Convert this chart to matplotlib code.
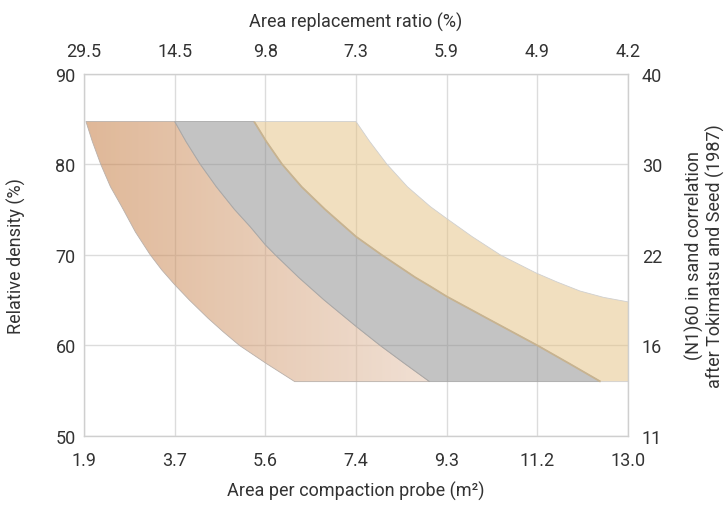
import numpy as np
import matplotlib
matplotlib.use("Agg")
import matplotlib.pyplot as plt
from matplotlib.patches import Polygon

# ---- data ----
bottom_tick_labels = ["1.9", "3.7", "5.6", "7.4", "9.3", "11.2", "13.0"]
top_tick_labels = ["29.5", "14.5", "9.8", "7.3", "5.9", "4.9", "4.2"]
y_ticks = [50, 60, 70, 80, 90]
right_tick_labels = ["11", "16", "22", "30", "40"]

# boundary curves: relative density (%) -> area per probe (m2)
c1_d = [84.7, 82.5, 80.0, 77.5, 75.3, 72.5, 70.0, 68.3, 66.7, 65.0, 63.0, 61.5, 60.0, 58.0, 56.0]
c1_x = [1.94, 2.07, 2.24, 2.44, 2.67, 2.95, 3.25, 3.49, 3.75, 4.05, 4.43, 4.74, 5.07, 5.62, 6.20]
c2_d = [84.7, 82.5, 80.0, 77.5, 75.0, 73.1, 71.1, 70.0, 67.5, 65.0, 62.1, 60.0, 58.0, 56.0]
c2_x = [3.75, 3.98, 4.27, 4.60, 4.97, 5.29, 5.60, 5.80, 6.28, 6.80, 7.45, 7.94, 8.44, 8.95]
c3_d = [84.7, 82.5, 80.0, 77.5, 75.0, 72.0, 70.0, 67.5, 66.5, 65.4, 63.0, 60.0, 58.0, 56.0]
c3_x = [5.37, 5.62, 5.94, 6.34, 6.82, 7.45, 7.97, 8.66, 8.97, 9.30, 10.12, 11.15, 11.80, 12.44]
c4_d = [84.7, 82.5, 80.0, 77.5, 75.3, 74.0, 72.0, 70.0, 68.0, 67.0, 66.0, 65.3, 64.8, 63.0, 56.0]
c4_x = [7.45, 7.73, 8.08, 8.50, 8.97, 9.30, 9.82, 10.39, 11.12, 11.55, 12.02, 12.50, 13.00, 15.00, 22.00]

x_min, x_max = 1.9, 13.0

plt.rcParams['font.family'] = ['Roboto', 'DejaVu Sans']
text_color = '#333333'
fs = 13
fw = 'normal'

fig = plt.figure(figsize=(7.26, 5.06), dpi=100)
ax = fig.add_axes([84 / 726, 1 - 437 / 506, (628 - 84) / 726, (437 - 74.5) / 506])

ax.set_xlim(x_min, x_max)
ax.set_ylim(50, 90)
xt = np.linspace(x_min, x_max, len(bottom_tick_labels))
ax.set_xticks(xt)
ax.set_xticklabels(bottom_tick_labels, fontweight=fw)
ax.set_yticks(y_ticks)
ax.set_yticklabels([str(v) for v in y_ticks], fontweight=fw)
ax.set_axisbelow(True)
ax.grid(True, color='#dcdcdc', lw=1.0)
for s in ax.spines.values():
    s.set_color('#cfcfcf')
    s.set_linewidth(1.0)
ax.tick_params(axis='x', length=0, labelsize=fs, colors=text_color, pad=11)
ax.tick_params(axis='y', length=0, labelsize=fs, colors=text_color, pad=6)


def band(left_d, left_x, right_d, right_x):
    pts = list(zip(left_x, left_d)) + list(zip(right_x[::-1], right_d[::-1]))
    return np.array(pts)


# orange band with horizontal gradient
orange_pts = band(c1_d, c1_x, c2_d, c2_x)
orange_poly = Polygon(orange_pts, closed=True, facecolor='none',
                      edgecolor='#b9b0aa', lw=0.6, zorder=3)
ax.add_patch(orange_poly)
n = 256
t = np.linspace(0, 1, n)
left_c = np.array([198.6, 125.9, 67.7]) / 255
right_c = np.array([228.0, 198.0, 176.0]) / 255
grad = np.zeros((2, n, 4))
for i in range(3):
    grad[:, :, i] = left_c[i] + (right_c[i] - left_c[i]) * t
grad[:, :, 3] = 0.55
im = ax.imshow(grad, extent=[min(c1_x), max(c2_x), min(c1_d), max(c1_d)],
               origin='lower', aspect='auto', zorder=2, interpolation='bilinear')
im.set_clip_path(orange_poly)

# gray band
gray_pts = band(c2_d, c2_x, c3_d, c3_x)
ax.add_patch(Polygon(gray_pts, closed=True, facecolor='#898989', alpha=0.5,
                     edgecolor='none', zorder=2))
ax.add_patch(Polygon(gray_pts, closed=True, facecolor='none',
                     edgecolor='#a8a8a8', lw=0.6, zorder=3))

# yellow band
yellow_pts = band(c3_d, c3_x, c4_d, c4_x)
ax.add_patch(Polygon(yellow_pts, closed=True, facecolor='#e5c181', alpha=0.5,
                     edgecolor='none', zorder=2))
ax.add_patch(Polygon(yellow_pts, closed=True, facecolor='none',
                     edgecolor='#cfcfcf', lw=0.6, zorder=3))
ax.plot(c3_x, c3_d, color='#c8b38f', lw=1.3, zorder=3, solid_capstyle='butt')

ax.set_xlabel('Area per compaction probe (m²)', fontsize=fs, fontweight=fw,
              color=text_color, labelpad=8)
ax.set_ylabel('Relative density (%)', fontsize=fs, fontweight=fw,
              color=text_color, labelpad=21)

# top axis
axt = ax.twiny()
axt.set_xlim(ax.get_xlim())
axt.set_xticks(xt)
axt.set_xticklabels(top_tick_labels, fontweight=fw)
axt.tick_params(length=0, labelsize=fs, colors=text_color, pad=10)
axt.set_xlabel('Area replacement ratio (%)', fontsize=fs, fontweight=fw,
               color=text_color, labelpad=11)
for s in axt.spines.values():
    s.set_visible(False)

# right axis
axr = ax.twinx()
axr.set_ylim(ax.get_ylim())
axr.set_yticks(y_ticks)
axr.set_yticklabels(right_tick_labels, fontweight=fw)
axr.tick_params(length=0, labelsize=fs, colors=text_color, pad=10)
axr.set_ylabel('(N1)60 in sand correlation\nafter Tokimatsu and Seed (1987)',
               fontsize=fs, fontweight=fw, color=text_color, labelpad=16,
               linespacing=1.15)
for s in axr.spines.values():
    s.set_visible(False)

fig.savefig('out.png', dpi=100)
